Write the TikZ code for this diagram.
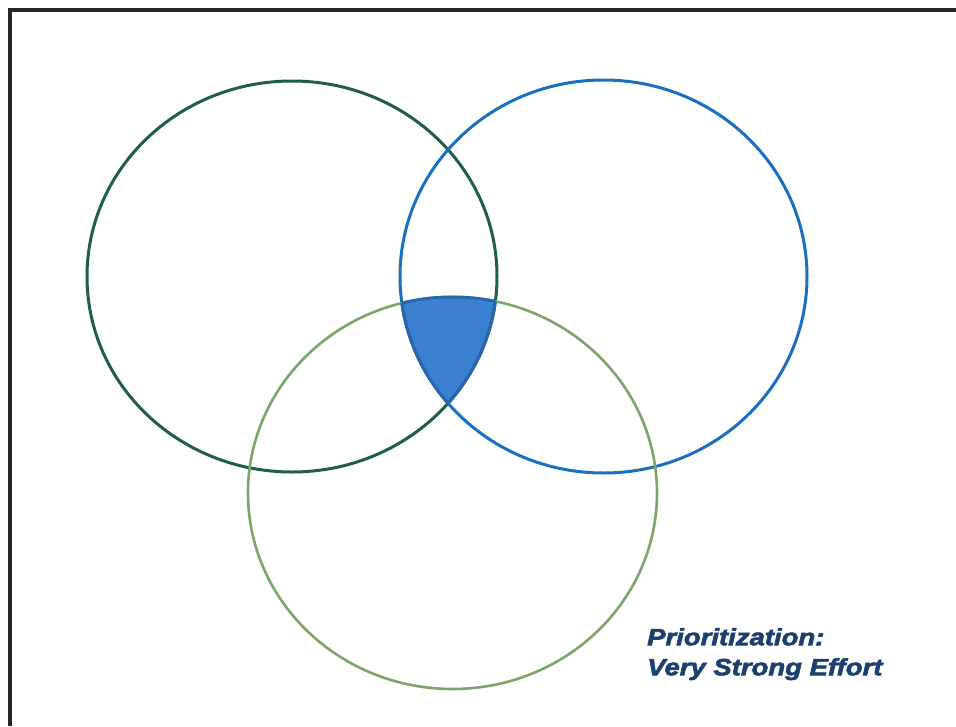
\documentclass[tikz,border=0pt]{standalone}
\usepackage{fontspec}
\newfontfamily\labelfont[FakeStretch=1.17,FakeBold=2.6]{Liberation Sans}
\definecolor{framegray}{HTML}{262626}
\definecolor{cdarkgreen}{HTML}{1F5E4A}
\definecolor{cblue}{HTML}{1A70C0}
\definecolor{clightgreen}{HTML}{7BA66A}
\definecolor{cfill}{HTML}{3B80D0}
\definecolor{cedge}{HTML}{2A66AE}
\definecolor{ctext}{HTML}{1C3F6E}
\begin{document}
\begin{tikzpicture}[x=1pt,y=-1pt,
  frameline/.style={draw=framegray,line width=3.4pt},
  ring/.style={line width=3pt},
  labeltext/.style={text=ctext,font=\labelfont\bfseries\itshape\fontsize{23.5}{30}\selectfont,align=left,anchor=north west,inner sep=0pt}]
\useasboundingbox (0,0) rectangle (956,726);
\fill[white] (0,0) rectangle (956,726);
\def\LeftC{(292,276.5) ellipse [x radius=205,y radius=195.5]}
\def\RightC{(603.5,276.5) ellipse [x radius=203.5,y radius=196.5]}
\def\BottomC{(452.5,493) ellipse [x radius=204.5,y radius=196]}
% shaded triple intersection
\begin{scope}
  \clip \LeftC;
  \clip \RightC;
  \fill[cfill] \BottomC;
\end{scope}
% circles
\draw[ring,draw=cdarkgreen] \LeftC;
\draw[ring,draw=cblue] \RightC;
\draw[ring,line width=2.6pt,draw=clightgreen] \BottomC;
% outline of shaded region
\begin{scope}
  \clip \LeftC; \clip \RightC;
  \draw[cedge,line width=3pt] \BottomC;
\end{scope}
\begin{scope}
  \clip \LeftC; \clip \BottomC;
  \draw[cedge,line width=3pt] \RightC;
\end{scope}
\begin{scope}
  \clip \RightC; \clip \BottomC;
  \draw[cedge,line width=3pt] \LeftC;
\end{scope}
% frame
\draw[frameline] (10,726) -- (10,10) -- (956,10);
% label
\node[labeltext] (label) at (647,628) {Prioritization:\\Very Strong Effort};
\end{tikzpicture}
\end{document}
